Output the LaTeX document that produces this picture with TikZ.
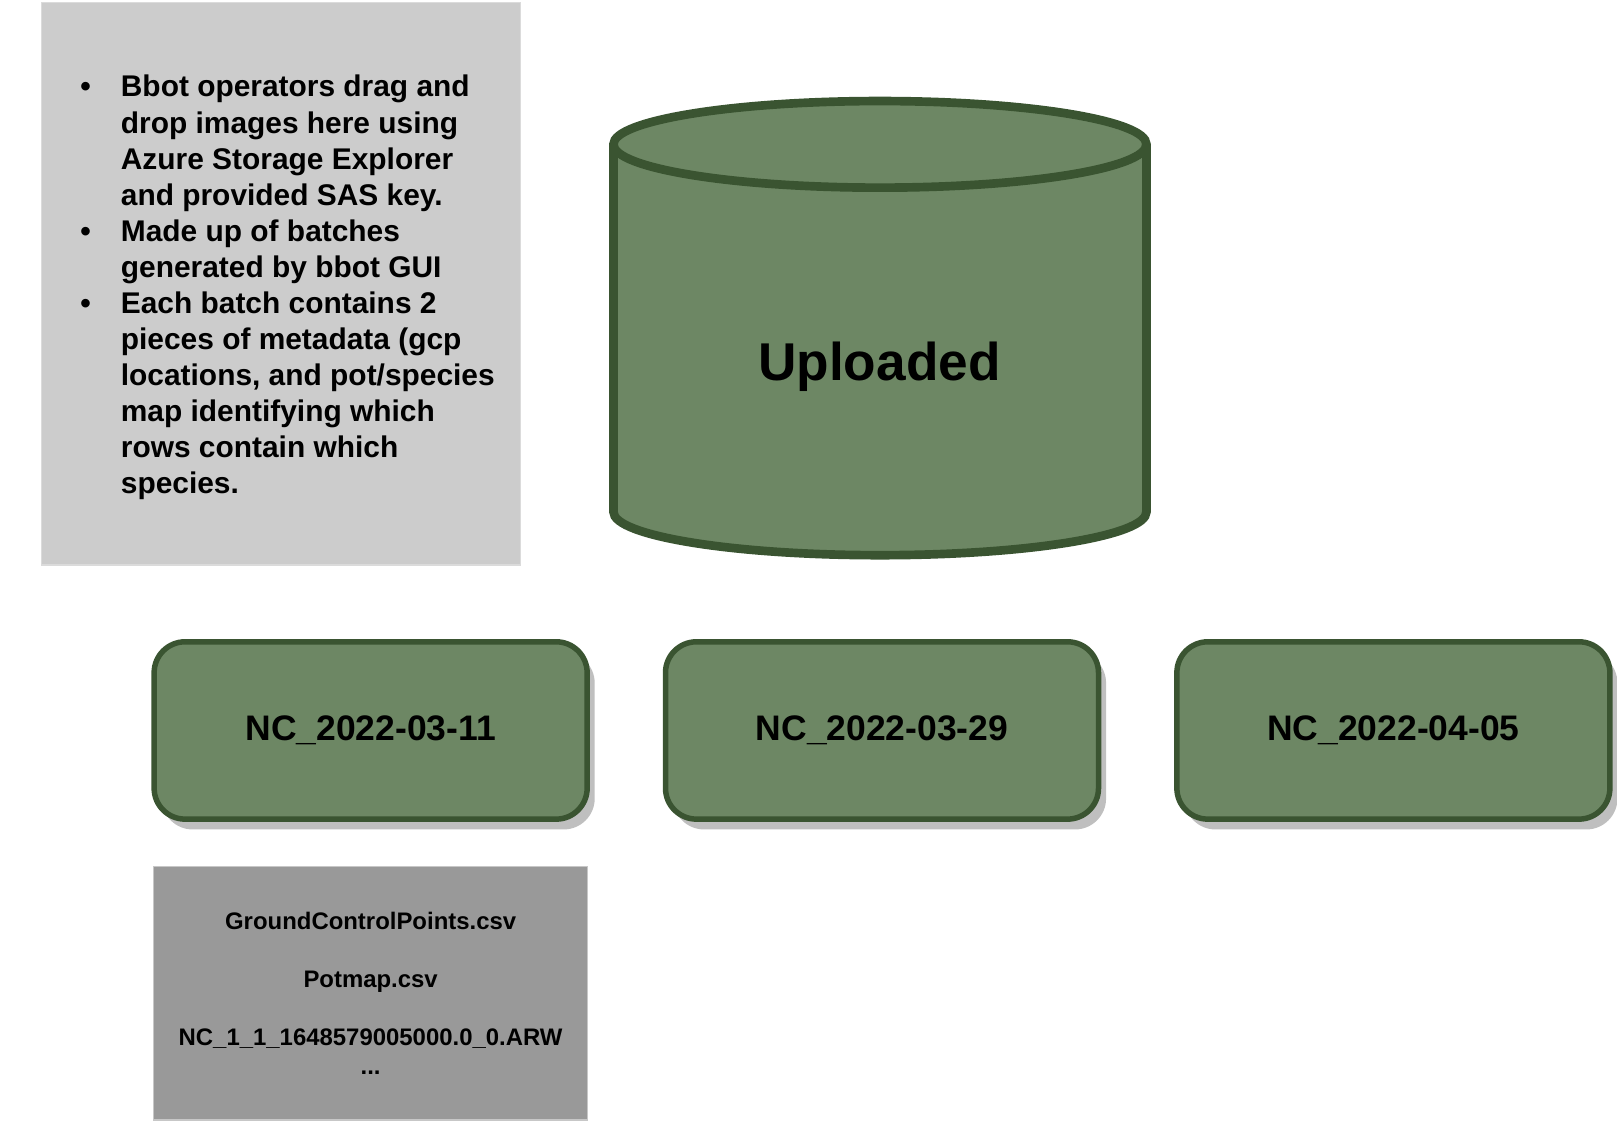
\documentclass[tikz,border=0pt]{standalone}
\usepackage{fontspec}
\setmainfont{Liberation Sans}
\usetikzlibrary{positioning,shadows}
\definecolor{batchgreen}{HTML}{6D8764}
\definecolor{batchedge}{HTML}{3A5431}
\begin{document}
\begin{tikzpicture}[
x=0.75pt, y=-0.75pt,
notebox/.style={rectangle, draw=black!14, fill=black!20, line width=0.75pt, minimum width=348.75pt, minimum height=409.5pt},
notetext/.style={align=left, inner sep=0pt, font=\fontsize{21.75pt}{26.25pt}\selectfont\bfseries},
bulletdot/.style={inner sep=0pt, font=\fontsize{21.75pt}{26.25pt}\selectfont\bfseries},
batch/.style={rectangle, rounded corners=22.5pt, draw=batchedge, fill=batchgreen, line width=4pt, minimum width=315pt, minimum height=129pt, font=\fontsize{25.8pt}{31pt}\selectfont\bfseries, drop shadow={shadow xshift=5.5pt, shadow yshift=-7.5pt, fill=black!25, opacity=1}},
files/.style={rectangle, draw=black!22, fill=black!40, line width=0.75pt, minimum width=315.75pt, minimum height=184.5pt, align=center, font=\fontsize{17.4pt}{21pt}\selectfont\bfseries},
store/.style={draw=batchedge, fill=batchgreen, line width=6.3pt}
]
\useasboundingbox (0,0) rectangle (1568.4,1088.3);

%Notes
\node[notebox]	(notes_bg)		at (272.5,275)		{};
\node[bulletdot]	(bullet_a)	[anchor=base]	at (83,94)	{•};
\node[bulletdot]	(bullet_b)	[anchor=base]	at (83,234)	{•};
\node[bulletdot]	(bullet_c)	[anchor=base]	at (83,304)	{•};
\node[notetext]	(note_a)	[anchor=base west]	at (117,199)	{Bbot operators drag and\\ drop images here using\\ Azure Storage Explorer\\ and provided SAS key.};
\node[notetext]	(note_b)	[anchor=base west]	at (117,269)	{Made up of batches\\ generated by bbot GUI};
\node[notetext]	(note_c)	[anchor=base west]	at (117,479)	{Each batch contains 2\\ pieces of metadata (gcp\\ locations, and pot/species\\ map identifying which\\ rows contain which\\ species.};

%Storage
\path[store] (595,140) -- (595,496.5) arc[start angle=180, end angle=360, x radius=193.875pt, y radius=31.5pt] -- (1112,140) arc[start angle=0, end angle=180, x radius=193.875pt, y radius=31.5pt] -- cycle;
\draw[store, fill=none] (595,140) arc[start angle=180, end angle=360, x radius=193.875pt, y radius=31.5pt];
\node[font=\fontsize{38.7pt}{46pt}\selectfont\bfseries]	(uploaded)	at (853,356)	{Uploaded};

%Batches
\node[batch]	(batch_0311)	at (359.5,708.5)	{NC\_2022-03-11};
\node[batch]	(batch_0329)	[right= 53pt of batch_0311]	{NC\_2022-03-29};
\node[batch]	(batch_0405)	[right= 53pt of batch_0329]	{NC\_2022-04-05};

%Files
\node[files]	(batch_files)	[below= 32pt of batch_0311]	{GroundControlPoints.csv\\[21pt] Potmap.csv\\[21pt] NC\_1\_1\_1648579005000.0\_0.ARW\\ ...};

\end{tikzpicture}
\end{document}
